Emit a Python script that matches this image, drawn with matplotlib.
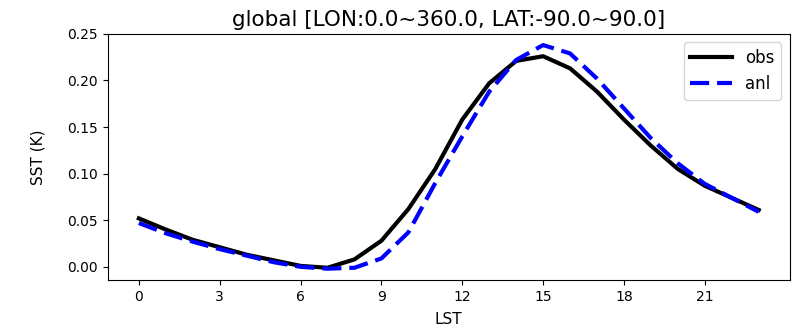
import matplotlib
matplotlib.use("Agg")
import matplotlib.pyplot as plt

# hourly diurnal SST anomaly, global mean
lst = list(range(24))
obs = [0.052, 0.040, 0.029, 0.021, 0.013, 0.007, 0.001, -0.001, 0.008, 0.028,
       0.062, 0.105, 0.158, 0.197, 0.221, 0.226, 0.213, 0.188, 0.158, 0.130,
       0.105, 0.087, 0.074, 0.061]
anl = [0.047, 0.036, 0.027, 0.019, 0.012, 0.005, 0.000, -0.002, -0.001, 0.009,
       0.037, 0.090, 0.140, 0.188, 0.222, 0.238, 0.229, 0.202, 0.170, 0.138,
       0.111, 0.089, 0.074, 0.059]
title = "global [LON:0.0~360.0, LAT:-90.0~90.0]"

fig = plt.figure(figsize=(8.05, 3.32), dpi=100)
ax = fig.add_axes([0.134, 0.157, 0.847, 0.741])
ax.plot(lst, obs, color="black", lw=3, label="obs")
ax.plot(lst, anl, color="blue", lw=3, ls=(0, (4.6, 1.9)), label="anl")
ax.set_xticks(range(0, 24, 3))
ax.set_yticks([0.0, 0.05, 0.10, 0.15, 0.20, 0.25])
ax.tick_params(labelsize=10)
ax.set_xlabel("LST", fontsize=11, labelpad=6)
ax.set_ylabel("SST (K)", fontsize=11, labelpad=16)
ax.set_title(title, fontsize=15.5)
ax.legend(loc="upper right", fontsize=12, handlelength=2.5)

fig.savefig("out.png", dpi=100)
